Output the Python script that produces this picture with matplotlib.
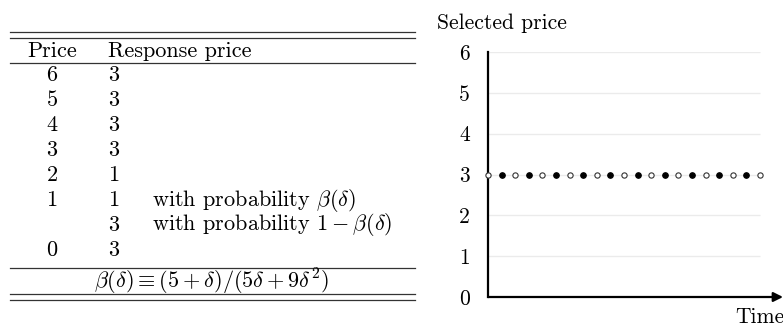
import matplotlib.pyplot as plt

plt.rcParams['font.family'] = ['cmr10', 'DejaVu Serif']
plt.rcParams['mathtext.fontset'] = 'cm'
plt.rcParams['axes.formatter.use_mathtext'] = True

# strategy table
prices = ['6', '5', '4', '3', '2', '1', '', '0']
responses = ['3', '3', '3', '3', '1', '1', '3', '3']
notes = ['', '', '', '', '', r'with probability $\beta(\delta)$',
         r'with probability $1-\beta(\delta)$', '']
footnote = r'$\beta(\delta) \equiv (5+\delta)/(5\delta+9\delta^2)$'

# simulated path of selected prices
periods = list(range(21))
selected = [3, 3, 3, 3, 3, 3, 3, 3, 3, 3, 3, 3, 3, 3, 3, 3, 3, 3, 3, 3, 3]
player = ['A', 'B', 'A', 'B', 'A', 'B', 'A', 'B', 'A', 'B', 'A',
          'B', 'A', 'B', 'A', 'B', 'A', 'B', 'A', 'B', 'A']
yticks = [0, 1, 2, 3, 4, 5, 6]

W, H = 783, 327
fig = plt.figure(figsize=(W / 100, H / 100), dpi=100)
fs_tab = 16
fs = 15.5

# table drawn on a pixel-scaled overlay
tab = fig.add_axes([0, 0, 1, 1])
tab.set_xlim(0, W)
tab.set_ylim(H, 0)
tab.axis('off')

rule = dict(color='#333333', lw=0.9)
x0, x1 = 10, 415
for y in (32, 38, 63, 268, 294, 300):
    tab.plot([x0, x1], [y, y], **rule)

tab.text(52, 51, 'Price', fontsize=fs_tab, ha='center', va='center')
tab.text(108, 51, 'Response price', fontsize=fs_tab, ha='left', va='center')
for i, (p, r, n) in enumerate(zip(prices, responses, notes)):
    y = 75 + 25 * i
    tab.text(52, y, p, fontsize=fs_tab, ha='center', va='center')
    tab.text(114, y, r, fontsize=fs_tab, ha='center', va='center')
    tab.text(152, y, n, fontsize=fs_tab, ha='left', va='center')
tab.text(212, 282, footnote, fontsize=fs_tab, ha='center', va='center')

# price chart
left, right = 488, 783
bottom, top = 297, 52
ax = fig.add_axes([left / W, (H - bottom) / H, (right - left) / W, (bottom - top) / H])
xmax = 20 * (right - left) / (760 - left)
ax.set_xlim(0, xmax)
ax.set_ylim(0, 6)

for s in ('top', 'right', 'bottom'):
    ax.spines[s].set_visible(False)
ax.spines['left'].set_linewidth(1.6)
ax.spines['left'].set_color('black')

ax.hlines(yticks[1:], 0, periods[-1], color='#ebebeb', lw=1, zorder=1)
ax.annotate('', xy=(xmax, 0), xytext=(0, 0), annotation_clip=False,
            arrowprops=dict(arrowstyle='-|>', color='black', lw=1.6,
                            mutation_scale=14, shrinkA=0, shrinkB=0))

ax.set_yticks(yticks)
ax.set_yticklabels([str(t) for t in yticks])
ax.tick_params(axis='y', length=0, pad=13, labelsize=fs)
ax.set_xticks([])

for t, v, who in zip(periods, selected, player):
    if who == 'A':
        ax.plot(t, v, 'o', ms=3.8, mfc='white', mec='#333333', mew=0.8,
                zorder=3, clip_on=False)
    else:
        ax.plot(t, v, 'o', ms=4.0, mfc='black', mec='black', mew=0.8,
                zorder=3, clip_on=False)

fig.text(437 / W, 1 - 23 / H, 'Selected price', fontsize=fs, ha='left', va='center')
fig.text(735 / W, 1 - 317 / H, 'Time', fontsize=fs, ha='left', va='center')

fig.savefig('out.png', dpi=100)
